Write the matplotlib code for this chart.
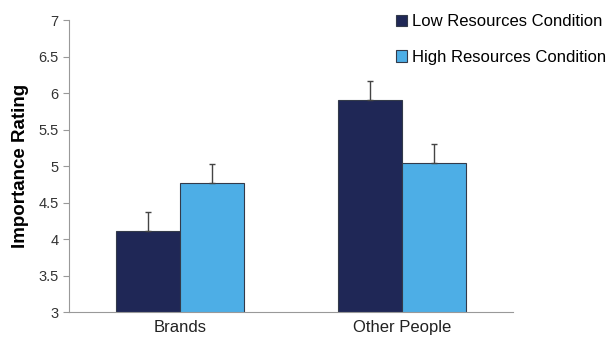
import matplotlib
matplotlib.use('Agg')
import matplotlib.pyplot as plt
import numpy as np

categories = ['Brands', 'Other People']
series = ['Low Resources Condition', 'High Resources Condition']
low_vals = [4.11, 5.90]
high_vals = [4.77, 5.04]
low_err = [0.26, 0.26]
high_err = [0.26, 0.26]
colors = ['#1f2756', '#4daee6']

plt.rcParams['font.family'] = ['Liberation Sans', 'DejaVu Sans']

fig = plt.figure(figsize=(6.07, 3.39), dpi=100)
ax = fig.add_axes([0.1137, 0.0796, 0.731, 0.861])

x = np.arange(len(categories))
width = 0.288
ekw = dict(ecolor='#444444', elinewidth=1, capsize=2.5, capthick=1)
ax.bar(x - width / 2, low_vals, width, color=colors[0],
       edgecolor='#333a4a', linewidth=0.8, label=series[0],
       yerr=[np.zeros(2), low_err], error_kw=ekw)
ax.bar(x + width / 2, high_vals, width, color=colors[1],
       edgecolor='#333a4a', linewidth=0.8, label=series[1],
       yerr=[np.zeros(2), high_err], error_kw=ekw)

ax.set_ylim(3, 7)
ax.set_xlim(-0.5, 1.5)
ax.set_yticks(np.arange(3, 7.01, 0.5))
ax.set_yticklabels(['3', '3.5', '4', '4.5', '5', '5.5', '6', '6.5', '7'])
ax.set_xticks(x)
ax.set_xticklabels(categories, fontsize=12, color='#222222')
ax.tick_params(axis='x', length=0, pad=6)
ax.tick_params(axis='y', length=4, color='#999999', labelsize=10.5,
               labelcolor='#333333', direction='out')
for s in ['top', 'right']:
    ax.spines[s].set_visible(False)
for s in ['left', 'bottom']:
    ax.spines[s].set_color('#999999')
ax.set_ylabel('Importance Rating', fontsize=13.5, fontweight='bold', labelpad=7)

fig.legend(loc='upper right', bbox_to_anchor=(1.024, 1.002), fontsize=12,
           frameon=False, handlelength=0.7, handleheight=0.7,
           handletextpad=0.3, labelspacing=1.25)

fig.savefig('out.png', dpi=100)
